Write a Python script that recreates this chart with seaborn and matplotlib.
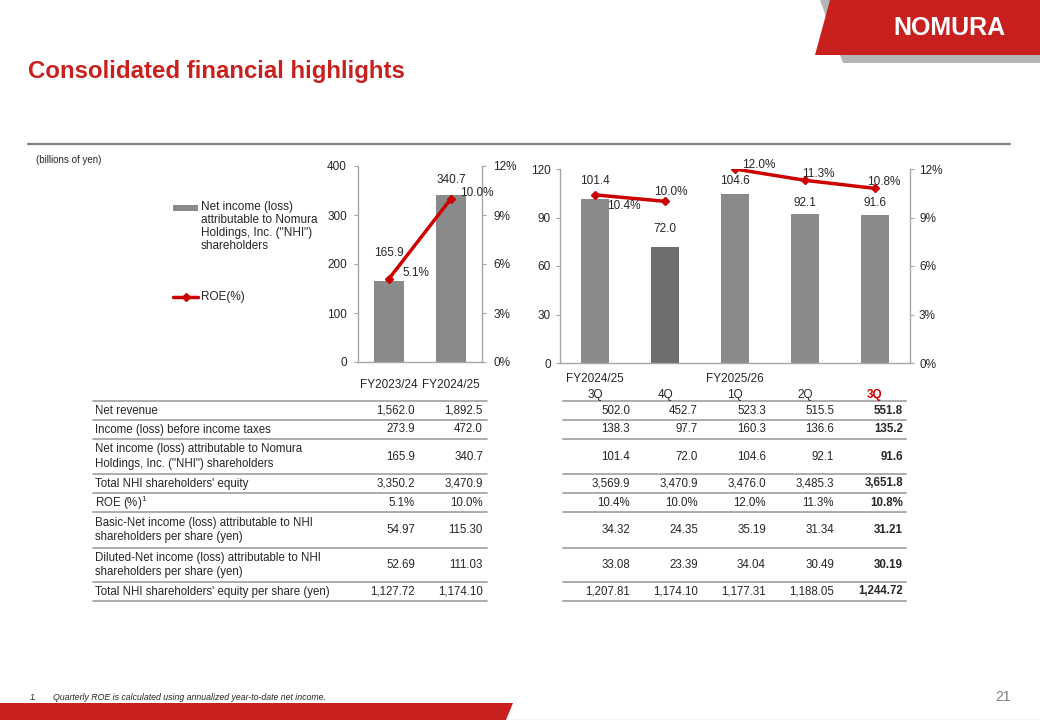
import numpy as np
import pandas as pd
import matplotlib.pyplot as plt
import seaborn as sns
from matplotlib.patches import Polygon, Rectangle

# ---- data ----
fy_labels = ["FY2023/24", "FY2024/25"]
fy_net_income = [165.9, 340.7]
fy_roe = [5.1, 10.0]

q_fy = ["FY2024/25", "FY2024/25", "FY2025/26", "FY2025/26", "FY2025/26"]
q_labels = ["3Q", "4Q", "1Q", "2Q", "3Q"]
q_net_income = [101.4, 72.0, 104.6, 92.1, 91.6]
q_roe = [10.4, 10.0, 12.0, 11.3, 10.8]
q_roe_segments = [[0, 1], [2, 3, 4]]  # quarters joined within each fiscal year

row_labels = [
    "Net revenue",
    "Income (loss) before income taxes",
    "Net income (loss) attributable to Nomura\nHoldings, Inc. (\"NHI\") shareholders",
    "Total NHI shareholders' equity",
    "ROE (%)$^1$",
    "Basic-Net income (loss) attributable to NHI\nshareholders per share (yen)",
    "Diluted-Net income (loss) attributable to NHI\nshareholders per share (yen)",
    "Total NHI shareholders' equity per share (yen)",
]
fy_table = [
    ["1,562.0", "1,892.5"],
    ["273.9", "472.0"],
    ["165.9", "340.7"],
    ["3,350.2", "3,470.9"],
    ["5.1%", "10.0%"],
    ["54.97", "115.30"],
    ["52.69", "111.03"],
    ["1,127.72", "1,174.10"],
]
q_table = [
    ["502.0", "452.7", "523.3", "515.5", "551.8"],
    ["138.3", "97.7", "160.3", "136.6", "135.2"],
    ["101.4", "72.0", "104.6", "92.1", "91.6"],
    ["3,569.9", "3,470.9", "3,476.0", "3,485.3", "3,651.8"],
    ["10.4%", "10.0%", "12.0%", "11.3%", "10.8%"],
    ["34.32", "24.35", "35.19", "31.34", "31.21"],
    ["33.08", "23.39", "34.04", "30.49", "30.19"],
    ["1,207.81", "1,174.10", "1,177.31", "1,188.05", "1,244.72"],
]

# ---- style ----
RED = "#C8201E"
LINE_RED = "#CC0000"
BAR = "#8A8A8A"
BAR_DARK = "#6E6E6E"
SPINE = "#A6A6A6"
W, H = 1040, 720

sns.set_style("white")
plt.rcParams["font.family"] = ["Liberation Sans", "DejaVu Sans"]
plt.rcParams["mathtext.fontset"] = "custom"
plt.rcParams["mathtext.rm"] = "Liberation Sans"

fig = plt.figure(figsize=(10.4, 7.2), dpi=100)

# overlay in pixel coordinates for page furniture and the table
ov = fig.add_axes([0, 0, 1, 1])
ov.set_xlim(0, W)
ov.set_ylim(H, 0)
ov.axis("off")


def px_axes(x0, y0, x1, y1):
    ax = fig.add_axes([x0 / W, 1 - y1 / H, (x1 - x0) / W, (y1 - y0) / H])
    ax.set_facecolor("none")
    return ax


def style_axes(ax, ax2, ymax, ystep, ypad):
    for a in (ax, ax2):
        for s in a.spines.values():
            s.set_visible(False)
    ax.spines["left"].set_visible(True)
    ax.spines["bottom"].set_visible(True)
    ax2.spines["right"].set_visible(True)
    for s in (ax.spines["left"], ax.spines["bottom"], ax2.spines["right"]):
        s.set_color(SPINE)
        s.set_linewidth(1)
    ax.set_ylim(0, ymax)
    ax.set_yticks(np.arange(0, ymax + 1, ystep))
    ax2.set_ylim(0, 12)
    ax2.set_yticks(np.arange(0, 13, 3))
    ax2.set_yticklabels([f"{v}%" for v in range(0, 13, 3)])
    ax.tick_params(axis="y", direction="out", length=3, color=SPINE,
                   labelsize=8.5, pad=ypad, left=True)
    ax2.tick_params(axis="y", direction="out", length=3, color=SPINE,
                    labelsize=8.5, pad=ypad, right=True)
    ax.set_xlabel("")
    ax.set_ylabel("")
    ax.grid(False)
    ax2.grid(False)


# ---- header / footer ----
ov.add_patch(Polygon([(820, 0), (W, 0), (W, 63), (843, 63)], closed=True,
                     color="#B4B4B4", lw=0))
ov.add_patch(Polygon([(830, 0), (W, 0), (W, 55), (815, 55)], closed=True,
                     color=RED, lw=0))
ov.text(949, 28, "NOMURA", color="white", fontsize=18, fontweight="bold",
        ha="center", va="center")
ov.text(28, 78, "Consolidated financial highlights", color=RED, fontsize=17.3,
        fontweight="bold", ha="left", va="baseline")
ov.plot([28, 1010], [144, 144], color="#808080", lw=1.6)
ov.text(36, 160, "(billions of yen)", fontsize=7, ha="left", va="center")

ov.add_patch(Polygon([(0, 703), (513, 703), (506, 720), (0, 720)], closed=True,
                     color=RED, lw=0))
ov.plot([506, W], [719.5, 719.5], color="#C8C8C8", lw=1)
ov.text(30, 697, "1.", fontsize=6.3, style="italic", ha="left", va="center")
ov.text(53, 697, "Quarterly ROE is calculated using annualized year-to-date net income.",
        fontsize=6.3, style="italic", ha="left", va="center")
ov.text(1003, 697, "21", fontsize=10, color="#7F7F7F", ha="center", va="center")

# ---- legend (left of the annual chart) ----
ov.add_patch(Rectangle((173, 204.5), 25, 6, color=BAR, lw=0))
ov.text(201, 201, "Net income (loss)\nattributable to Nomura\nHoldings, Inc. (\"NHI\")\nshareholders",
        fontsize=8.5, ha="left", va="top", linespacing=1.1)
ov.plot([173, 198], [297, 297], color=LINE_RED, lw=2.5)
ov.plot([185.5], [297], color=LINE_RED, marker="D", ms=4)
ov.text(201, 297, "ROE(%)", fontsize=8.5, ha="left", va="center")

# ---- annual chart ----
axL = px_axes(358, 166, 482, 362)
dfL = pd.DataFrame({"period": fy_labels, "net_income": fy_net_income})
sns.barplot(data=dfL, x="period", y="net_income", color=BAR, width=0.47,
            saturation=1, edgecolor="none", ax=axL)
axL.set_xlim(-0.5, len(fy_labels) - 0.5)
axL2 = axL.twinx()
axL2.plot(range(len(fy_roe)), fy_roe, color=LINE_RED, lw=2.5, marker="D", ms=4)
style_axes(axL, axL2, 400, 100, 5)
axL.tick_params(axis="x", length=0, labelsize=8.5, pad=12)

fy_bar_off = [28, 15]
for i, v in enumerate(fy_net_income):
    axL.annotate(f"{v:.1f}", (i, v), xytext=(0, fy_bar_off[i]),
                 textcoords="offset pixels", ha="center", va="center", fontsize=8.5)
fy_roe_off = [(27, 6), (26, 6)]
for i, v in enumerate(fy_roe):
    axL2.annotate(f"{v:.1f}%", (i, v), xytext=fy_roe_off[i],
                  textcoords="offset pixels", ha="center", va="center", fontsize=8.5)

# ---- quarterly chart ----
axR = px_axes(560, 169, 910, 363)
dfR = pd.DataFrame({"period": [f"{a} {b}" for a, b in zip(q_fy, q_labels)],
                    "net_income": q_net_income})
q_colors = [BAR, BAR_DARK, BAR, BAR, BAR]
sns.barplot(data=dfR, x="period", y="net_income", hue="period", palette=q_colors,
            width=0.39, saturation=1, edgecolor="none", legend=False, ax=axR)
axR.set_xlim(-0.5, len(q_labels) - 0.5)
axR2 = axR.twinx()
for seg in q_roe_segments:
    axR2.plot(seg, [q_roe[k] for k in seg], color=LINE_RED, lw=2.5,
              marker="D", ms=4)
style_axes(axR, axR2, 120, 30, 3.5)
axR.set_xticks(range(len(q_labels)))
axR.set_xticklabels(q_labels)
axR.tick_params(axis="x", length=0, labelsize=8.5, pad=18.5)
last = axR.get_xticklabels()[-1]
last.set_color(LINE_RED)
last.set_fontweight("bold")
for i, fy in enumerate(q_fy):
    if i == 0 or q_fy[i - 1] != fy:
        axR.annotate(fy, (i, 0), xytext=(0, -15.5), textcoords="offset pixels",
                     ha="center", va="center", fontsize=8.5, annotation_clip=False)

q_bar_off = [18, 18, 13, 11, 12]
for i, v in enumerate(q_net_income):
    axR.annotate(f"{v:.1f}", (i, v), xytext=(0, q_bar_off[i]),
                 textcoords="offset pixels", ha="center", va="center", fontsize=8.5)
q_roe_off = [(29, -11), (6, 9), (24, 4), (13, 6), (9, 6)]
for i, v in enumerate(q_roe):
    axR2.annotate(f"{v:.1f}%", (i, v), xytext=q_roe_off[i],
                  textcoords="offset pixels", ha="center", va="center", fontsize=8.5)

# ---- table ----
row_h = [19, 19, 35, 19, 19, 36, 34, 19]
edges = 401 + np.concatenate([[0], np.cumsum(row_h)])
for x0, x1 in [(93, 487), (563, 906)]:
    for e in edges:
        ov.plot([x0, x1], [e, e], color=SPINE, lw=1.3)
fy_col_x = [415, 483]
q_col_x = [630, 698, 766, 834, 903]
for r, label in enumerate(row_labels):
    yc = (edges[r] + edges[r + 1]) / 2
    ov.text(95, yc, label, fontsize=8.3, ha="left", va="center", linespacing=1.3)
    for c, x in enumerate(fy_col_x):
        ov.text(x, yc, fy_table[r][c], fontsize=8.3, ha="right", va="center")
    for c, x in enumerate(q_col_x):
        ov.text(x, yc, q_table[r][c], fontsize=8.3, ha="right", va="center",
                fontweight="bold" if c == len(q_col_x) - 1 else "normal")

fig.savefig("out.png", dpi=100)
